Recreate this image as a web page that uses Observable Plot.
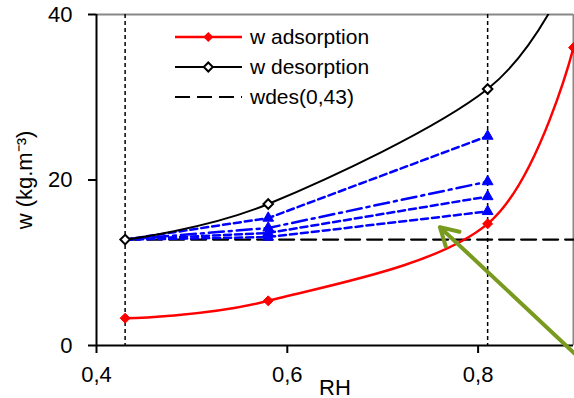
<!DOCTYPE html>
<html>
<head>
<meta charset="utf-8">
<script src="https://cdn.jsdelivr.net/npm/d3@7"></script>
<script src="https://cdn.jsdelivr.net/npm/@observablehq/plot@0.6"></script>
<style>
  html, body { margin: 0; padding: 0; background: #fff; }
  #wrap { position: relative; width: 574px; height: 398px; overflow: hidden; font-family: "Liberation Sans", Arial, sans-serif; }
  #legend { position: absolute; left: 175px; top: 22px; font-size: 21px; color: #000; }
  #legend .row { height: 30px; display: flex; align-items: center; }
  #legend svg { display: block; margin-right: 8px; }
</style>
</head>
<body>
<div id="wrap"><div id="legend"></div></div>
<script>
// ---- data ----
const rhPoints = [0.43, 0.58, 0.81, 0.9];
const wAdsorption = [3.3, 5.4, 14.7, 36.0];
const wDesorption = [12.8, 17.1, 31.0, 46.0];   // last point lies above the frame (clipped)
const wdes043 = 12.8;
const wdesRange = [0.43, 0.9];
const rhBlue = [0.43, 0.58, 0.81];
const blue1 = [12.8, 15.4, 25.3];
const blue2 = [12.8, 14.2, 19.8];
const blue3 = [12.8, 13.6, 18.0];
const blue4 = [12.8, 13.1, 16.2];
const verticalRH = [0.43, 0.81];
const arrowFrom = [0.92, -3.0];
const arrowTo = [0.76, 14.3];
const xTicks = [0.4, 0.6, 0.8];
const yTicks = [0, 20, 40];
const legendLabels = ["w adsorption", "w desorption", "wdes(0,43)"];

// ---- tables ----
const ads = rhPoints.map((x, i) => ({x, y: wAdsorption[i]}));
const des = rhPoints.map((x, i) => ({x, y: wDesorption[i]}));
const desVisible = des.filter(d => d.y <= 40);
const wdesLine = wdesRange.map(x => ({x, y: wdes043}));
const blues = [
  {vals: blue1, dash: "7,4"},
  {vals: blue2, dash: "15,5,3,5"},
  {vals: blue3, dash: "7,4"},
  {vals: blue4, dash: "7,4"}
].map(s => ({dash: s.dash, pts: rhBlue.map((x, i) => ({x, y: s.vals[i]}))}));
const blueMarkers = blues.flatMap(s => s.pts.slice(1));
const fmt = d => d.toFixed(1).replace(".", ",");

const chart = Plot.plot({
  width: 574,
  height: 398,
  marginLeft: 96,
  marginRight: 1,
  marginTop: 14,
  marginBottom: 53,
  style: {fontFamily: "'Liberation Sans', Arial, sans-serif", fontSize: "22px", color: "#000", background: "transparent", overflow: "visible"},
  x: {domain: [0.4, 0.9]},
  y: {domain: [0, 40]},
  marks: [
    // frame
    Plot.ruleY([40], {stroke: "#888", strokeWidth: 2}),
    Plot.ruleX([0.9], {stroke: "#888", strokeWidth: 2}),
    // vertical reference lines
    Plot.ruleX(verticalRH, {stroke: "#000", strokeWidth: 1.5, strokeDasharray: "4,3"}),
    // wdes(0,43)
    Plot.line(wdesLine, {x: "x", y: "y", stroke: "#000", strokeWidth: 2.2, strokeDasharray: "15,7"}),
    // blue series
    ...blues.map(s => Plot.line(s.pts, {x: "x", y: "y", stroke: "#0000ff", strokeWidth: 2.5, strokeDasharray: s.dash})),
    Plot.dot(blueMarkers, {x: "x", y: "y", symbol: "triangle", r: 4, fill: "#0000ff", stroke: "#0000ff", strokeWidth: 1}),
    // desorption
    Plot.line(des, {x: "x", y: "y", curve: "cardinal", stroke: "#000", strokeWidth: 2, clip: true}),
    Plot.dot(desVisible, {x: "x", y: "y", symbol: "diamond2", r: 4.3, fill: "#fff", stroke: "#000", strokeWidth: 2}),
    // adsorption
    Plot.line(ads, {x: "x", y: "y", curve: "cardinal", stroke: "#ff0000", strokeWidth: 2.5}),
    Plot.dot(ads, {x: "x", y: "y", symbol: "diamond2", r: 4.5, fill: "#ff0000", stroke: "#ff0000", strokeWidth: 1}),
    // axes
    Plot.ruleY([0], {stroke: "#000", strokeWidth: 2}),
    Plot.ruleX([0.4], {stroke: "#000", strokeWidth: 2}),
    Plot.axisX({ticks: xTicks, tickFormat: fmt, tickSize: 8, tickPadding: 13, strokeWidth: 2,
      label: "RH", labelAnchor: "center", labelOffset: 49, labelArrow: false}),
    Plot.axisY({ticks: yTicks, tickSize: 8, tickPadding: 16, strokeWidth: 2,
      label: "w (kg.m⁻³)", labelAnchor: "center", labelOffset: 80, labelArrow: false}),
    // annotation arrow
    Plot.arrow([{x1: arrowFrom[0], y1: arrowFrom[1], x2: arrowTo[0], y2: arrowTo[1]}],
      {x1: "x1", y1: "y1", x2: "x2", y2: "y2", stroke: "#789a1e", strokeWidth: 4, headLength: 7.5})
  ]
});
document.getElementById("wrap").prepend(chart);

// legend overlay
const sw = [
  `<line x1="0" y1="8" x2="67" y2="8" stroke="#ff0000" stroke-width="2.5"/><path d="M33.3,3 L38.3,8 L33.3,13 L28.3,8 Z" fill="#ff0000"/>`,
  `<line x1="0" y1="8" x2="67" y2="8" stroke="#000" stroke-width="2"/><path d="M33.3,3.5 L37.8,8 L33.3,12.5 L28.8,8 Z" fill="#fff" stroke="#000" stroke-width="2"/>`,
  `<line x1="0" y1="8" x2="67" y2="8" stroke="#000" stroke-width="2" stroke-dasharray="15,7"/>`
];
document.getElementById("legend").innerHTML = legendLabels.map((t, i) =>
  `<div class="row"><svg width="67" height="16">${sw[i]}</svg><span>${t}</span></div>`).join("");
</script>
</body>
</html>
